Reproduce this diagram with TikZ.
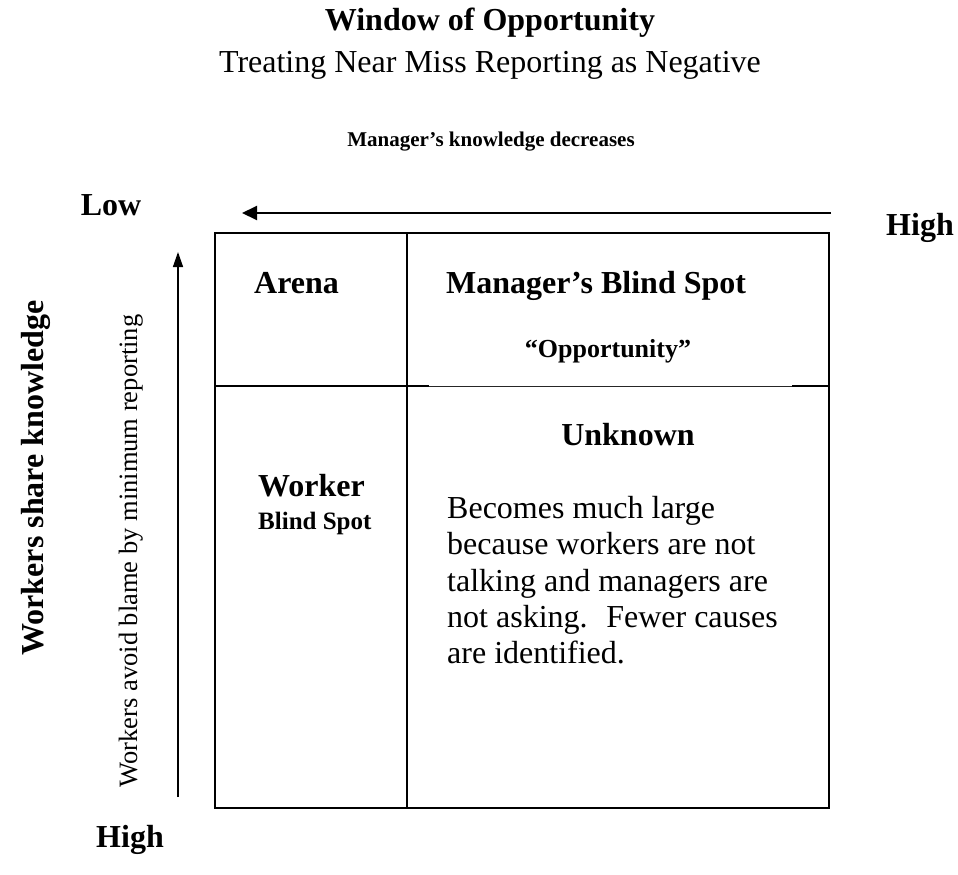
\documentclass[tikz,border=0pt]{standalone}
\usepackage{fontspec}
\setmainfont{Liberation Serif}
\usetikzlibrary{arrows.meta}
\tikzset{
  grid line/.style={line width=1.9pt},
  thin grid line/.style={line width=1.3pt, black!85},
  top arrow/.style={line width=2pt, -{Triangle[length=15pt,width=14pt]}},
  side arrow/.style={line width=1.4pt, -{Triangle[length=15pt,width=10pt]}},
  big label/.style={font=\fontsize{32}{37}\selectfont\bfseries, inner sep=0pt},
  small label/.style={font=\fontsize{21}{25}\selectfont\bfseries, inner sep=0pt},
}
\begin{document}
\begin{tikzpicture}[x=1pt, y=-1pt]
\useasboundingbox (0,0) rectangle (958,875);
% title
\node[big label, anchor=base] (title) at (490,31) {Window of Opportunity};
\node[font=\fontsize{32}{37}\selectfont, inner sep=0pt, anchor=base] (subtitle) at (490,73) {Treating Near Miss Reporting as Negative};
\node[small label, anchor=base] (mgrknow) at (491,146) {Manager’s knowledge decreases};
% top axis
\node[big label, anchor=base] (low) at (111,215) {Low};
\node[big label, anchor=base] (hightop) at (920,235) {High};
\coordinate (arrowstart) at (831,213);
\coordinate (arrowend) at (242,213);
\draw[top arrow] (arrowstart) -- (arrowend);
% the window
\coordinate (nw) at (215,233);
\coordinate (se) at (829,808);
\draw[grid line] (nw) rectangle (se);
\draw[grid line] (407,233) -- (407,808);
\draw[grid line] (215,386) -- (429,386);
\draw[thin grid line] (429,386.5) -- (792,386.5);
\draw[grid line] (792,386) -- (829,386);
% panes
\node[big label, anchor=base west] (arena) at (254,293) {Arena};
\node[big label, anchor=base west] (mgrblind) at (446,293) {Manager’s Blind Spot};
\node[font=\fontsize{26}{30}\selectfont\bfseries, inner sep=0pt, anchor=base] (opp) at (608,357) {“Opportunity”};
\node[big label, anchor=base west] (worker) at (258,496) {Worker};
\node[font=\fontsize{25}{29}\selectfont\bfseries, inner sep=0pt, anchor=base west] (wblind) at (258,529) {Blind Spot};
\node[big label, anchor=base] (unknown) at (628,445) {Unknown};
\node[font=\fontsize{32}{36.3}\selectfont, inner sep=0pt, align=left, anchor=north west] (body) at (447,496)
  {Becomes much large\\because workers are not\\talking and managers are\\not asking.~ Fewer causes\\are identified.};
% side axis
\node[big label, anchor=base] (highbot) at (130,847) {High};
\coordinate (vstart) at (178,797);
\coordinate (vend) at (178,252);
\draw[side arrow] (vstart) -- (vend);
\node[font=\fontsize{26.5}{30}\selectfont, inner sep=0pt, rotate=90, anchor=base] (avoid) at (137,551) {Workers avoid blame by minimum reporting};
\node[big label, rotate=90, anchor=base] (share) at (43,478) {Workers share knowledge};
\end{tikzpicture}
\end{document}
